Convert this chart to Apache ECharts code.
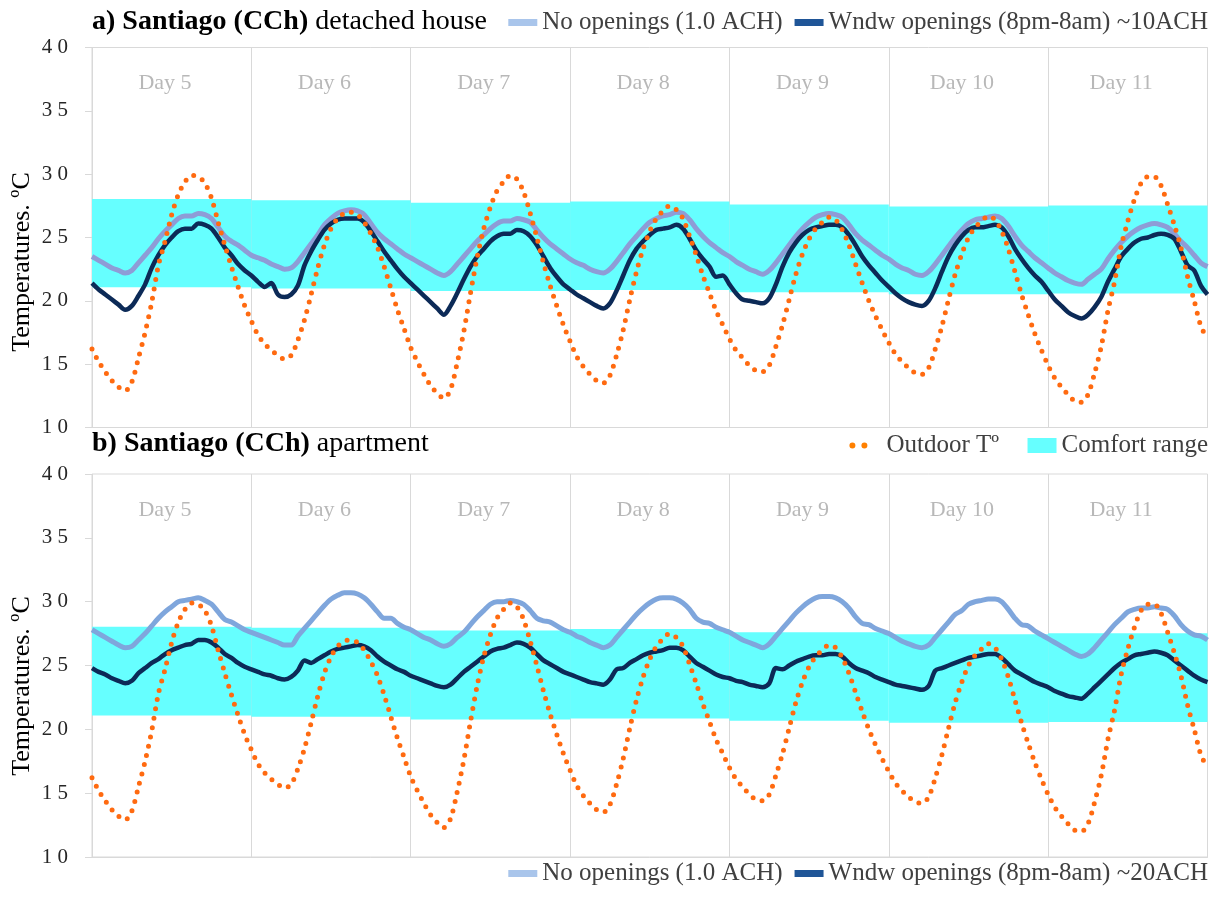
<!DOCTYPE html>
<html>
<head>
<meta charset="utf-8">
<script src="https://cdn.jsdelivr.net/npm/echarts@6/dist/echarts.min.js"></script>
<style>
html,body{margin:0;padding:0;background:#fff;}
#c{width:1220px;height:898px;}
</style>
</head>
<body>
<div id="c"></div>
<script>
// ---------------- DATA ----------------
const dayLabels = ['Day 5', 'Day 6', 'Day 7', 'Day 8', 'Day 9', 'Day 10', 'Day 11'];
const yTicks = [10, 15, 20, 25, 30, 35, 40];

// Comfort range per day (lower / upper, °C)
const comfortLow  = [21.08, 20.98, 20.77, 20.85, 20.68, 20.52, 20.58];
const comfortHigh = [28.03, 27.95, 27.74, 27.85, 27.60, 27.45, 27.52];

// Hourly values, hour 0 of Day 5 .. hour 0 of Day 12 (169 points)
const outdoorT = [
  16.2,15.2,14.4,13.7,13.2,12.9,13.6,15.5,17.5,19.9,22.8,24.7,26.8,28.4,29.4,29.9,29.8,29.3,28.1,26.2,24.4,22.7,21.1,19.6,
  18.4,17.3,16.6,16.1,15.7,15.4,15.7,16.9,18.5,20.5,22.6,24.4,25.7,26.5,26.9,27.0,26.8,26.2,25.3,24.2,22.7,21.0,19.3,17.8,
  16.3,15.2,14.2,13.3,12.7,12.3,13.0,15.1,17.6,20.6,23.4,25.7,27.4,28.7,29.4,29.9,29.6,28.6,26.9,25.0,23.0,21.2,19.6,18.1,
  16.8,15.6,14.8,14.2,13.7,13.5,14.1,15.7,17.7,20.1,22.3,24.1,25.5,26.5,27.1,27.5,27.2,26.5,25.1,23.6,22.0,20.6,19.2,18.1,
  17.0,16.1,15.5,14.9,14.5,14.4,14.9,16.4,18.1,20.1,22.1,23.7,24.9,25.7,26.2,26.6,26.4,25.6,24.4,22.9,21.4,20.0,18.8,17.7,
  16.7,15.8,15.2,14.7,14.3,14.2,14.7,16.2,18.0,20.1,22.1,23.7,25.0,25.8,26.3,26.7,26.4,25.5,24.1,22.3,20.5,18.9,17.4,16.1,
  14.9,13.9,13.2,12.6,12.1,12.0,12.6,14.3,16.4,19.2,21.5,24.3,26.3,28.0,29.3,29.8,29.8,29.1,27.6,26.0,24.2,21.9,20.0,18.0,
  17.0
];

const houseNoOpen = [
  23.5,23.2,22.9,22.6,22.4,22.2,22.4,23.0,23.6,24.2,24.9,25.5,26.0,26.5,26.7,26.7,26.9,26.8,26.5,25.8,25.1,24.7,24.4,24.0,
  23.6,23.4,23.2,22.9,22.7,22.5,22.6,23.1,23.8,24.5,25.2,26.0,26.5,26.9,27.1,27.2,27.1,26.8,26.1,25.4,24.9,24.5,24.1,23.7,
  23.4,23.1,22.8,22.5,22.2,22.0,22.3,22.9,23.5,24.1,24.7,25.2,25.7,26.1,26.3,26.3,26.5,26.4,26.2,25.6,25.0,24.5,24.1,23.7,
  23.3,23.0,22.8,22.5,22.3,22.2,22.5,23.1,23.8,24.5,25.1,25.7,26.2,26.5,26.7,26.8,27.0,26.9,26.4,25.7,25.1,24.6,24.2,23.8,
  23.5,23.1,22.8,22.5,22.3,22.1,22.4,23.0,23.7,24.4,25.1,25.7,26.2,26.6,26.8,26.9,26.8,26.6,26.0,25.3,24.8,24.4,24.0,23.6,
  23.3,22.9,22.6,22.4,22.1,22.0,22.3,22.9,23.6,24.3,25.0,25.6,26.1,26.4,26.5,26.6,26.7,26.5,25.9,25.1,24.4,23.9,23.4,23.0,
  22.6,22.2,21.9,21.6,21.4,21.3,21.7,22.1,22.5,23.3,24.0,24.6,25.1,25.5,25.8,26.0,26.1,26.0,25.8,25.3,24.7,24.2,23.6,23.0,
  22.7
];

const houseWindow = [
  21.4,20.9,20.5,20.1,19.7,19.3,19.6,20.4,21.3,22.6,23.6,24.4,25.0,25.5,25.7,25.7,26.1,26.0,25.7,25.0,24.2,23.6,22.9,22.4,
  22.0,21.5,21.1,21.4,20.5,20.3,20.5,21.2,22.8,23.9,24.8,25.6,26.1,26.4,26.5,26.5,26.5,26.2,25.5,24.7,23.9,23.2,22.5,21.9,
  21.4,20.9,20.4,19.9,19.4,18.9,19.6,20.6,21.7,22.7,23.5,24.1,24.7,25.1,25.3,25.3,25.6,25.5,25.1,24.4,23.5,22.6,21.9,21.3,
  20.9,20.5,20.2,19.9,19.6,19.4,19.8,20.8,22.0,23.2,24.1,24.7,25.2,25.6,25.7,25.8,26.0,25.7,24.9,24.0,23.3,22.7,21.9,22.0,
  21.3,20.6,20.1,20.0,19.9,19.8,20.2,21.3,22.7,23.8,24.6,25.2,25.6,25.8,25.9,26.0,26.0,25.8,25.2,24.4,23.5,22.8,22.2,21.6,
  21.1,20.6,20.2,19.9,19.7,19.6,20.0,21.0,22.3,23.5,24.4,25.1,25.6,25.8,25.8,25.9,26.0,25.8,25.1,24.1,23.3,22.6,22.0,21.5,
  20.8,20.1,19.6,19.1,18.8,18.6,18.9,19.5,20.3,21.5,22.5,23.5,24.1,24.6,24.9,25.0,25.2,25.3,25.2,24.9,23.9,22.8,22.4,21.2,
  20.5
];

const aptNoOpen = [
  27.8,27.5,27.2,26.9,26.6,26.4,26.5,27.0,27.5,28.1,28.7,29.2,29.6,30.0,30.1,30.2,30.3,30.1,29.8,29.2,28.6,28.4,28.1,27.8,
  27.6,27.4,27.2,27.0,26.8,26.6,26.6,27.3,27.9,28.5,29.1,29.7,30.2,30.5,30.7,30.7,30.6,30.3,29.8,29.2,28.7,28.7,28.3,28.0,
  27.8,27.5,27.2,27.0,26.7,26.5,26.7,27.2,27.6,28.2,28.8,29.3,29.8,30.0,30.0,30.1,30.0,29.8,29.3,28.7,28.5,28.4,28.1,27.8,
  27.6,27.3,27.1,26.8,26.6,26.4,26.6,27.2,27.8,28.4,29.0,29.5,29.9,30.2,30.3,30.3,30.2,29.9,29.4,28.7,28.4,28.3,28.0,27.8,
  27.6,27.3,27.0,26.8,26.6,26.4,26.7,27.3,27.9,28.5,29.1,29.6,30.0,30.3,30.4,30.4,30.3,30.0,29.5,28.8,28.3,28.2,27.9,27.7,
  27.5,27.2,26.9,26.7,26.5,26.4,26.6,27.2,27.8,28.4,29.0,29.3,29.8,30.0,30.1,30.2,30.2,30.0,29.4,28.7,28.2,28.1,27.7,27.4,
  27.1,26.8,26.5,26.2,25.9,25.7,25.9,26.4,27.0,27.6,28.2,28.7,29.2,29.4,29.5,29.5,29.6,29.5,29.4,28.9,28.2,27.7,27.4,27.3,
  27.0
];

const aptWindow = [
  24.8,24.5,24.3,24.0,23.8,23.6,23.8,24.4,24.8,25.2,25.5,25.9,26.2,26.4,26.6,26.7,27.0,27.0,26.8,26.4,25.9,25.6,25.2,24.9,
  24.7,24.5,24.3,24.2,24.0,23.9,24.1,24.6,25.4,25.2,25.5,25.8,26.1,26.3,26.4,26.5,26.6,26.5,26.2,25.7,25.3,25.0,24.7,24.5,
  24.2,24.0,23.8,23.6,23.4,23.3,23.5,24.0,24.5,24.9,25.3,25.7,26.1,26.3,26.4,26.6,26.8,26.7,26.4,25.9,25.4,25.1,24.8,24.5,
  24.3,24.1,23.9,23.7,23.6,23.5,23.9,24.7,24.8,25.2,25.5,25.8,26.0,26.1,26.2,26.4,26.4,26.2,25.7,25.2,24.9,24.6,24.3,24.1,
  24.0,23.8,23.7,23.5,23.4,23.3,23.6,24.8,24.7,25.0,25.3,25.5,25.7,25.8,25.8,25.9,25.9,25.7,25.2,24.8,24.6,24.4,24.1,23.9,
  23.7,23.5,23.4,23.3,23.2,23.1,23.4,24.6,24.8,25.0,25.2,25.4,25.6,25.7,25.8,25.9,25.9,25.6,25.1,24.6,24.3,24.0,23.7,23.5,
  23.3,23.0,22.8,22.6,22.5,22.4,22.8,23.3,23.8,24.3,24.8,25.2,25.5,25.8,25.9,26.0,26.1,26.0,25.8,25.4,25.0,24.6,24.2,23.9,
  23.7
];

// ---------------- STYLE ----------------
const FONT = 'Liberation Serif';
const C_NO_HOUSE = '#8E9CD6';
const C_NO_APT = '#7FA6DC';
const C_WIN = '#0C2A57';
const C_OUT = '#FF6A10';
const C_BAND = '#66FFFF';
const GRID_LINE = '#D9D9D9';

const NAME_NO = 'No openings (1.0 ACH)';
const NAME_WIN_H = 'Wndw openings (8pm-8am) ~10ACH';
const NAME_WIN_A = 'Wndw openings (8pm-8am) ~20ACH';
const NAME_OUT = 'Outdoor T\u00BA';
const NAME_BAND = 'Comfort range';

const toXY = arr => arr.map((v, i) => [i, v]);
const bandData = dayLabels.map((d, i) => [i * 24, (i + 1) * 24, comfortLow[i], comfortHigh[i]]);
const dayLabelData = dayLabels.map((d, i) => ({ name: d, value: [i * 24 + 11, 37.2] }));

function makeAxes(idx) {
  return {
    x: {
      type: 'value', gridIndex: idx, min: 0, max: 168, interval: 24,
      axisLabel: { show: false }, axisTick: { show: false },
      axisLine: { show: true, lineStyle: { color: GRID_LINE, width: 1 } },
      splitLine: { show: true, lineStyle: { color: GRID_LINE, width: 1 } }
    },
    y: {
      type: 'value', gridIndex: idx, min: yTicks[0], max: yTicks[yTicks.length - 1], interval: 5,
      axisLine: { show: false },
      axisTick: { show: true, length: 7, lineStyle: { color: GRID_LINE } },
      splitLine: { show: false },
      axisLabel: {
        margin: 24, fontFamily: FONT, fontSize: 21, color: '#262626',
        formatter: v => String(v).split('').join(' ')
      }
    }
  };
}

function makeSeries(idx, noArr, winArr, noColor, winName) {
  return [
    {
      name: NAME_BAND, type: 'custom', xAxisIndex: idx, yAxisIndex: idx, z: 1,
      data: bandData, encode: { x: [0, 1], y: [2, 3] },
      itemStyle: { color: C_BAND },
      renderItem: (params, api) => {
        const p1 = api.coord([api.value(0), api.value(3)]);
        const p2 = api.coord([api.value(1), api.value(2)]);
        return { type: 'rect', shape: { x: p1[0], y: p1[1], width: p2[0] - p1[0], height: p2[1] - p1[1] },
                 style: { fill: C_BAND } };
      }
    },
    {
      name: NAME_NO, type: 'line', xAxisIndex: idx, yAxisIndex: idx, z: 2,
      data: toXY(noArr), showSymbol: false, smooth: 0.3,
      lineStyle: { color: noColor, width: 5 }, itemStyle: { color: noColor }
    },
    {
      name: winName, type: 'line', xAxisIndex: idx, yAxisIndex: idx, z: 3,
      data: toXY(winArr), showSymbol: false, smooth: 0.3,
      lineStyle: { color: C_WIN, width: 4.5 }, itemStyle: { color: C_WIN }
    },
    {
      name: NAME_OUT, type: 'line', xAxisIndex: idx, yAxisIndex: idx, z: 4,
      data: toXY(outdoorT), showSymbol: false, smooth: 0.3,
      lineStyle: { color: C_OUT, width: 5, type: [0, 9.5], cap: 'round' }, itemStyle: { color: C_OUT }
    },
    {
      name: 'days' + idx, type: 'scatter', xAxisIndex: idx, yAxisIndex: idx, z: 5, silent: true,
      data: dayLabelData, symbolSize: 1, itemStyle: { color: 'rgba(0,0,0,0)' },
      label: { show: true, position: 'inside', formatter: '{b}', fontFamily: FONT, fontSize: 22, color: '#A6A6A6' }
    }
  ];
}

const a0 = makeAxes(0), a1 = makeAxes(1);
const legendText = { fontFamily: FONT, fontSize: 25, color: '#404040' };

const titleStyle = { fontFamily: FONT, fontSize: 28, fontWeight: 'normal', color: '#000',
  rich: { b: { fontFamily: FONT, fontSize: 28, fontWeight: 'bold', color: '#000' } } };

const option = {
  animation: false,
  backgroundColor: '#ffffff',
  title: [
    { text: '{b|a) Santiago (CCh)} detached house', left: 92, top: 8, padding: 0, textStyle: titleStyle },
    { text: '{b|b) Santiago (CCh)} apartment', left: 92, top: 430, padding: 0, textStyle: titleStyle }
  ],
  legend: [
    { right: 12, top: 10, padding: 0, itemWidth: 29, itemHeight: 7, itemGap: 12, selectedMode: false,
      textStyle: legendText,
      data: [ { name: NAME_NO, icon: 'rect', itemStyle: { color: '#A9C5EB' } },
              { name: NAME_WIN_H, icon: 'rect', itemStyle: { color: '#1F5597' } } ] },
    { right: 221, top: 433, padding: 0, itemWidth: 18, itemHeight: 6, selectedMode: false,
      textStyle: Object.assign({ padding: [0, 0, 0, 14] }, legendText),
      data: [ { name: NAME_OUT, icon: 'path://M0,3a3,3 0 1,0 6,0a3,3 0 1,0 -6,0M12,3a3,3 0 1,0 6,0a3,3 0 1,0 -6,0',
                itemStyle: { color: '#FF8000' } } ] },
    { right: 12, top: 433, padding: 0, itemWidth: 29, itemHeight: 15, selectedMode: false,
      textStyle: legendText,
      data: [ { name: NAME_BAND, icon: 'rect', itemStyle: { color: C_BAND } } ] },
    { right: 12, top: 861, padding: 0, itemWidth: 29, itemHeight: 7, itemGap: 12, selectedMode: false,
      textStyle: legendText,
      data: [ { name: NAME_NO, icon: 'rect', itemStyle: { color: '#A9C5EB' } },
              { name: NAME_WIN_A, icon: 'rect', itemStyle: { color: '#1F5597' } } ] }
  ],
  grid: [
    { left: 92, right: 12.5, top: 47.5, height: 380, show: true, borderColor: GRID_LINE, borderWidth: 1, backgroundColor: 'transparent' },
    { left: 92, right: 12.5, top: 474, height: 383, show: true, borderColor: GRID_LINE, borderWidth: 1, backgroundColor: 'transparent' }
  ],
  xAxis: [a0.x, a1.x],
  yAxis: [a0.y, a1.y],
  graphic: [
    { type: 'text', x: 22, y: 262, rotation: Math.PI / 2,
      style: { text: 'Temperatures. \u00BAC', fontFamily: FONT, fontSize: 26, fill: '#000', align: 'center', verticalAlign: 'middle' } },
    { type: 'text', x: 22, y: 686, rotation: Math.PI / 2,
      style: { text: 'Temperatures. \u00BAC', fontFamily: FONT, fontSize: 26, fill: '#000', align: 'center', verticalAlign: 'middle' } }
  ],
  series: [].concat(
    makeSeries(0, houseNoOpen, houseWindow, C_NO_HOUSE, NAME_WIN_H),
    makeSeries(1, aptNoOpen, aptWindow, C_NO_APT, NAME_WIN_A)
  )
};

const chart = echarts.init(document.getElementById('c'), null, { renderer: 'canvas' });
chart.setOption(option);
</script>
</body>
</html>
